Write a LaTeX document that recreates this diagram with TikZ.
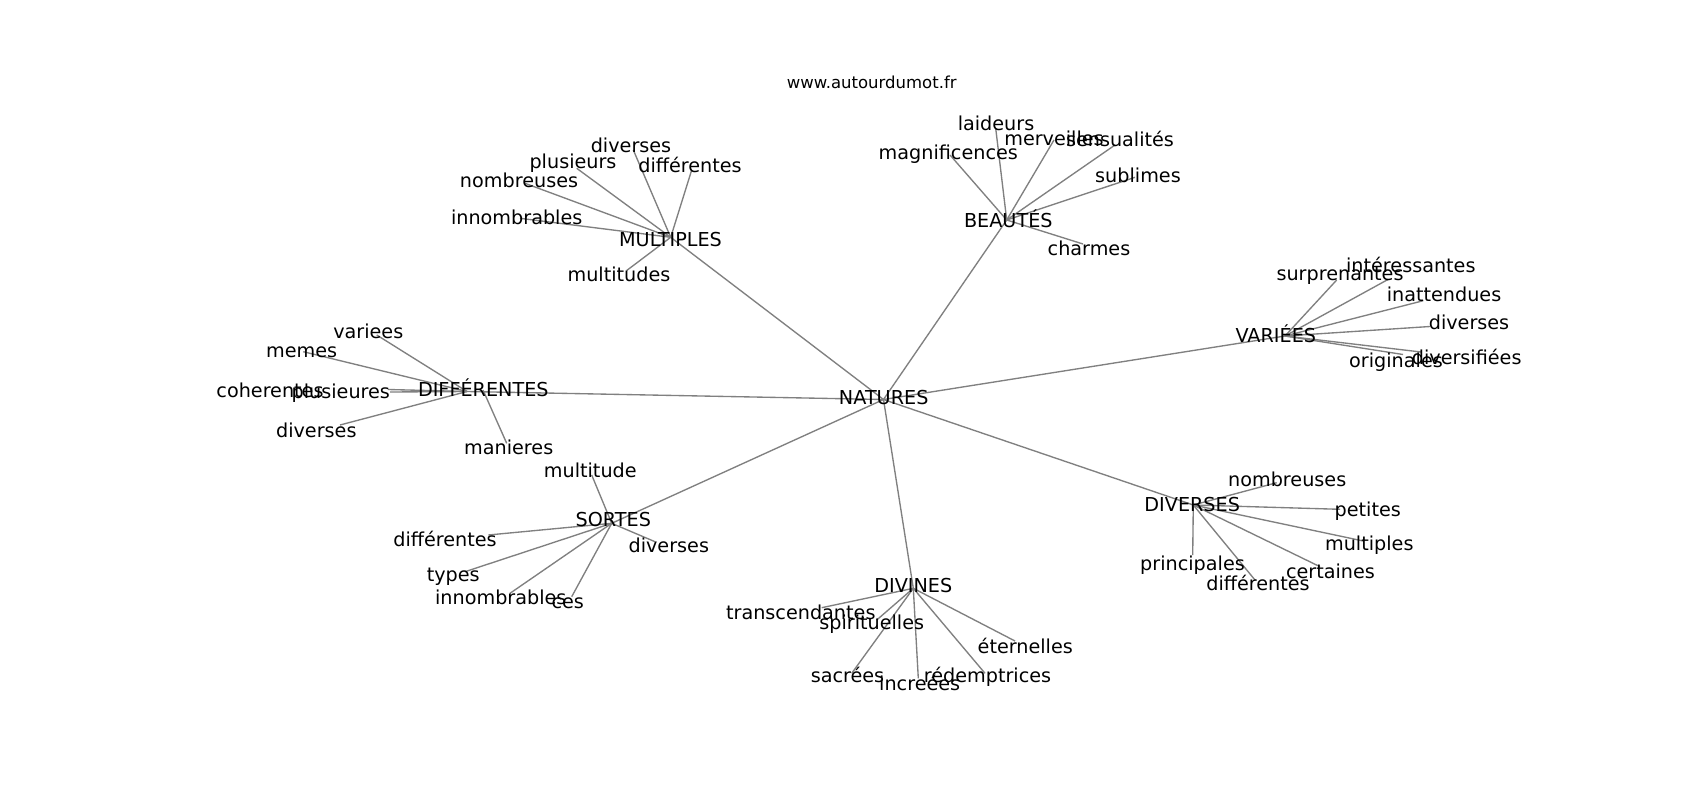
\documentclass[tikz,border=0pt]{standalone}
\usepackage{fontspec}
\setmainfont{DejaVu Sans}
\usetikzlibrary{backgrounds}
\definecolor{edgegray}{HTML}{808080}
\begin{document}
\begin{tikzpicture}[x=1pt,y=-1pt,
  lbl/.style={inner sep=0pt, anchor=mid, yshift=-4.5pt, text=black, font=\fontsize{19.2}{23}\selectfont},
  ttl/.style={inner sep=0pt, anchor=mid, yshift=-3.5pt, text=black, font=\fontsize{16.5}{20}\selectfont},
  edge/.style={draw=edgegray, line width=1.35pt}]
\useasboundingbox (0,0) rectangle (1700,800);

\node[ttl] (title) at (871.7,82.7) {www.autourdumot.fr};

% centre
\node[lbl] (N) at (883.7,397.5) {NATURES};
\coordinate (Nc) at (883.5,399.5);

% MULTIPLES
\node[lbl] (M) at (670.5,239.3) {MULTIPLES};
\coordinate (Mc) at (670.7,237.3);
\node[lbl] (m1) at (631,145.7) {diverses};        \coordinate (m1e) at (633.3,150);
\node[lbl] (m2) at (573,161.7) {plusieurs};       \coordinate (m2e) at (576.7,168.3);
\node[lbl] (m3) at (519,180.7) {nombreuses};      \coordinate (m3e) at (525,183.3);
\node[lbl] (m4) at (516.7,217.3) {innombrables};  \coordinate (m4e) at (520,218.3);
\node[lbl] (m5) at (690,165) {différentes};       \coordinate (m5e) at (691.7,170);
\node[lbl] (m6) at (619,274) {multitudes};        \coordinate (m6e) at (626.7,270.5);

% BEAUTES
\node[lbl] (B) at (1008.3,220) {BEAUTÉS};
\coordinate (Bc) at (1006.7,220);
\node[lbl] (b1) at (996,123) {laideurs};          \coordinate (b1e) at (995.7,128.3);
\node[lbl] (b2) at (948.3,152.3) {magnificences}; \coordinate (b2e) at (950,155);
\node[lbl] (b3) at (1054,138.3) {merveilles};     \coordinate (b3e) at (1054,140);
\node[lbl] (b4) at (1120,139.3) {sensualités};    \coordinate (b4e) at (1115,145);
\node[lbl] (b5) at (1138,175) {sublimes};         \coordinate (b5e) at (1135,177.3);
\node[lbl] (b6) at (1089,248.3) {charmes};        \coordinate (b6e) at (1083,244);

% VARIEES
\node[lbl] (V) at (1275.8,335) {VARIÉES};
\coordinate (Vc) at (1285,336);
\node[lbl] (v1) at (1340,273.3) {surprenantes};   \coordinate (v1e) at (1336.7,280);
\node[lbl] (v2) at (1410.8,265) {intéressantes};  \coordinate (v2e) at (1388.3,279.3);
\node[lbl] (v3) at (1444,294.3) {inattendues};    \coordinate (v3e) at (1423.3,300.7);
\node[lbl] (v4) at (1469,322.7) {diverses};       \coordinate (v4e) at (1430,326.5);
\node[lbl] (v5) at (1466.7,357) {diversifiées};   \coordinate (v5e) at (1421,352);
\node[lbl] (v6) at (1396,360) {originales};       \coordinate (v6e) at (1403,354.5);

% DIFFERENTES
\node[lbl] (D) at (483.3,389) {DIFFÉRENTES};
\coordinate (Dc) at (467,391.5);
\coordinate (Dc2) at (483,390);
\node[lbl] (d1) at (368.3,331.7) {variees};       \coordinate (d1e) at (376.7,335);
\node[lbl] (d2) at (301.7,350.7) {memes};         \coordinate (d2e) at (303.3,351.7);
\node[lbl] (d3) at (270,390.7) {coherentes};      \coordinate (d3e) at (388,389.5);
\node[lbl] (d4) at (340.8,391.7) {plusieures};    \coordinate (d4e) at (390,392);
\node[lbl] (d5) at (316.3,430) {diverses};        \coordinate (d5e) at (340,425);
\node[lbl] (d6) at (508.7,447.7) {manieres};      \coordinate (d6e) at (506.7,443.3);

% SORTES
\node[lbl] (S) at (613.3,519.3) {SORTES};
\coordinate (Sc) at (611.7,523.3);
\node[lbl] (s1) at (590.3,470.7) {multitude};     \coordinate (s1e) at (591.7,475);
\node[lbl] (s2) at (445,539.3) {différentes};     \coordinate (s2e) at (488.3,535);
\node[lbl] (s3) at (453.2,574) {types};           \coordinate (s3e) at (465,571.7);
\node[lbl] (s4) at (500.8,597.3) {innombrables};  \coordinate (s4e) at (510,593.3);
\node[lbl] (s5) at (567.7,601.7) {ces};           \coordinate (s5e) at (571.7,596.7);
\node[lbl] (s6) at (668.8,545) {diverses};        \coordinate (s6e) at (655,541.7);

% DIVINES
\node[lbl] (Dv) at (913.3,585) {DIVINES};
\coordinate (Dvc) at (913.3,588.3);
\node[lbl] (dv1) at (800.8,612.7) {transcendantes}; \coordinate (dv1e) at (821.7,607.7);
\node[lbl] (dv2) at (871.7,622.7) {spirituelles};   \coordinate (dv2e) at (876.7,620);
\node[lbl] (dv3) at (847.5,675) {sacrées};          \coordinate (dv3e) at (851.7,673.3);
\node[lbl] (dv4) at (919.7,683.3) {increées};       \coordinate (dv4e) at (918.3,678.3);
\node[lbl] (dv5) at (987.5,675) {rédemptrices};     \coordinate (dv5e) at (985,673.3);
\node[lbl] (dv6) at (1025.3,646) {éternelles};      \coordinate (dv6e) at (1015,641);

% DIVERSES
\node[lbl] (Ds) at (1192.2,504.3) {DIVERSES};
\coordinate (Dsc) at (1193.3,505);
\node[lbl] (ds1) at (1287.2,479.3) {nombreuses};  \coordinate (ds1e) at (1276.7,482.7);
\node[lbl] (ds2) at (1367.8,509.3) {petites};     \coordinate (ds2e) at (1340,509.3);
\node[lbl] (ds3) at (1369.3,543.3) {multiples};   \coordinate (ds3e) at (1363.3,541);
\node[lbl] (ds4) at (1330.5,571.7) {certaines};   \coordinate (ds4e) at (1320,566.7);
\node[lbl] (ds5) at (1258,583.3) {différentes};   \coordinate (ds5e) at (1255,580);
\node[lbl] (ds6) at (1192.5,563.3) {principales}; \coordinate (ds6e) at (1192.7,555);

\begin{pgfonlayer}{background}
  \fill[white] (0,0) rectangle (1700,800);
  \foreach \h in {Mc,Bc,Vc,Dc,Sc,Dvc,Dsc} \draw[edge] (Nc) -- (\h);
  \foreach \l in {m1e,m2e,m3e,m4e,m5e,m6e} \draw[edge] (Mc) -- (\l);
  \foreach \l in {b1e,b2e,b3e,b4e,b5e,b6e} \draw[edge] (Bc) -- (\l);
  \foreach \l in {v1e,v2e,v3e,v4e,v5e,v6e} \draw[edge] (Vc) -- (\l);
  \foreach \l in {d1e,d2e,d3e,d4e,d5e} \draw[edge] (Dc) -- (\l);
  \draw[edge] (Dc2) -- (d6e);
  \foreach \l in {s1e,s2e,s3e,s4e,s5e,s6e} \draw[edge] (Sc) -- (\l);
  \foreach \l in {dv1e,dv2e,dv3e,dv4e,dv5e,dv6e} \draw[edge] (Dvc) -- (\l);
  \foreach \l in {ds1e,ds2e,ds3e,ds4e,ds5e,ds6e} \draw[edge] (Dsc) -- (\l);
\end{pgfonlayer}
\end{tikzpicture}
\end{document}
